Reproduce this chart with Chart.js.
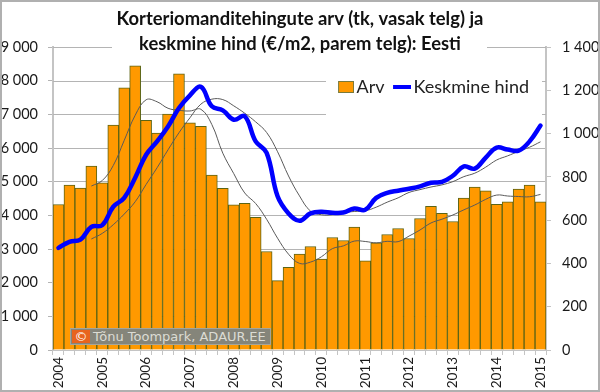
<!DOCTYPE html>
<html>
<head>
<meta charset="utf-8">
<script src="https://cdn.jsdelivr.net/npm/chart.js@4"></script>
<style>
  html, body { margin: 0; padding: 0; background: #fff; }
  #wrap { position: relative; width: 600px; height: 392px; }
  #stamp {
    position: absolute; left: 70px; top: 328px; width: 201px; height: 17px;
    background: #85857a; border: 1px solid #a5a59a; box-sizing: border-box;
    font: 13px "DejaVu Sans", sans-serif; color: #dcdcd4; line-height: 15px;
    white-space: nowrap; overflow: hidden;
  }
  #stamp b { display: inline-block; width: 18px; height: 13px; margin: 1px 3px 0 1px; background: #e8641e; color: #fff; font-weight: normal; text-align: center; line-height: 13px; vertical-align: top; }
</style>
</head>
<body>
<div id="wrap">
  <canvas id="chart" width="600" height="392"></canvas>
  <div id="stamp"><b>©</b>Tõnu Toompark, ADAUR.EE</div>
</div>
<script>
const categories = ["2004","","","","2005","","","","2006","","","","2007","","","","2008","","","","2009","","","","2010","","","","2011","","","","2012","","","","2013","","","","2014","","","","2015"];

const arv = [4323,4899,4810,5464,4968,6684,7785,8439,6823,6446,7011,8201,6744,6644,5196,4800,4314,4354,3937,2925,2063,2459,2846,3074,2697,3342,3253,3649,2648,3183,3431,3610,3312,3907,4264,4056,3818,4512,4840,4730,4324,4403,4780,4899,4403];

const hind = [472,500,510,569,577,662,703,796,902,964,1033,1118,1177,1216,1126,1107,1064,1080,964,911,710,631,597,631,639,634,635,654,648,703,726,736,745,756,773,777,805,848,838,889,935,926,921,964,1037];

const arvAvg = [null,null,null,4870,5035,5480,6225,6970,7433,7373,7180,7120,7100,7150,6696,5846,5238,4664,4351,3882,3320,2846,2573,2611,2769,3011,3092,3235,3223,3183,3228,3218,3384,3565,3773,3885,4011,4163,4307,4475,4602,4574,4559,4552,4621];

const hindAvg = [null,null,null,513,539,579,628,685,765,842,925,1004,1073,1136,1159,1157,1128,1094,1054,1005,916,804,712,642,625,625,635,640,643,660,683,703,728,741,753,763,778,801,817,845,878,897,918,937,962];

const titleLines = ["Korteriomanditehingute arv (tk, vasak telg) ja", "keskmine hind (€/m2, parem telg): Eesti"];
const gridColor = "#b4b4b4";
const axisColor = "#c4c4c4";
const textColor = "#1a1a1a";

function spaced(v) {
  return String(v).replace(/\B(?=(\d{3})+$)/g, " ");
}

// legend symbol, kept in the right half of its canvas so it sits close to the text
function swatch(w, h, fill, stroke) {
  const cv = document.createElement("canvas");
  cv.width = 30;
  cv.height = h;
  const c = cv.getContext("2d");
  c.fillStyle = fill;
  c.fillRect(30 - w, 0, w, h);
  if (stroke) {
    c.strokeStyle = stroke;
    c.strokeRect(30 - w + 0.5, 0.5, w - 1, h - 1);
  }
  return cv;
}

// the top gridlines are broken by the title and legend boxes, so they are drawn in pieces
const brokenGrid = {
  id: "brokenGrid",
  beforeLayout(chart) {
    // chartArea legend stacks in a column by default, we want one row
    chart.legend.isHorizontal = () => true;
  },
  afterLayout(chart) {
    chart.legend.top = 75;
    chart.legend.right = 532;
  },
  beforeDatasetsDraw(chart) {
    const c = chart.ctx;
    const y = chart.scales.y;
    const a = chart.chartArea;
    c.save();
    c.strokeStyle = gridColor;
    c.lineWidth = 1;
    const pieces = [[9000, a.left, 112], [9000, 487, a.right], [8000, a.left, 326], [8000, 542, a.right], [7000, a.left, 326], [7000, 542, a.right]];
    pieces.forEach(p => {
      const py = Math.round(y.getPixelForValue(p[0])) + 0.5;
      c.beginPath();
      c.moveTo(p[1], py);
      c.lineTo(p[2], py);
      c.stroke();
    });
    c.restore();
  },
  afterDraw(chart) {
    const c = chart.ctx;
    c.save();
    c.strokeStyle = "#b0b0b0";
    c.lineWidth = 2;
    c.strokeRect(1, 1, 598, 390);
    c.restore();
  }
};

new Chart(document.getElementById("chart"), {
  type: "bar",
  plugins: [brokenGrid],
  data: {
    labels: categories,
    datasets: [
      {
        label: "Arv",
        data: arv,
        yAxisID: "y",
        order: 3,
        backgroundColor: "#ff9900",
        borderColor: "#5c6414",
        borderWidth: 1,
        barPercentage: 1,
        categoryPercentage: 1,
        pointStyle: swatch(16, 12, "#ff9900", "#7a7a3a")
      },
      {
        type: "line",
        label: "Keskmine hind",
        data: hind,
        yAxisID: "y1",
        order: 0,
        borderColor: "#0000ff",
        backgroundColor: "#0000ff",
        borderWidth: 4.5,
        tension: 0.4,
        pointRadius: 0,
        pointStyle: swatch(18, 4, "#0000ff"),
        borderCapStyle: "round"
      },
      {
        type: "line",
        label: "arvAvg",
        data: arvAvg,
        yAxisID: "y",
        order: 1,
        borderColor: "#5a5a5a",
        borderWidth: 1,
        tension: 0.4,
        pointRadius: 0
      },
      {
        type: "line",
        label: "hindAvg",
        data: hindAvg,
        yAxisID: "y1",
        order: 2,
        borderColor: "#5a5a5a",
        borderWidth: 1,
        tension: 0.4,
        pointRadius: 0
      }
    ]
  },
  options: {
    responsive: false,
    animation: false,
    layout: { padding: 0 },
    plugins: {
      title: {
        display: true,
        text: titleLines,
        color: "#111",
        font: { family: "Lato", size: 18.4, weight: "bold", lineHeight: 24.5 / 18.4 },
        padding: { top: 7, bottom: -9 }
      },
      legend: {
        position: "chartArea",
        align: "end",
        labels: {
          usePointStyle: true,
          pointStyleWidth: 17,
          boxHeight: 11,
          padding: 3,
          color: "#222",
          font: { family: "Lato", size: 18 },
          filter: item => item.text === "Arv" || item.text === "Keskmine hind",
          sort: (a, b) => a.datasetIndex - b.datasetIndex
        }
      },
      tooltip: { enabled: false }
    },
    scales: {
      x: {
        offset: true,
        afterFit(scale) { scale.height = 42; },
        grid: { offset: true, drawOnChartArea: false, color: axisColor, tickLength: 5 },
        border: { color: axisColor, width: 1 },
        ticks: {
          autoSkip: false,
          maxRotation: 90,
          minRotation: 90,
          padding: 2,
          color: textColor,
          font: { family: "Lato", size: 13.5 }
        }
      },
      y: {
        position: "left",
        min: 0,
        max: 9000,
        afterFit(scale) { scale.width = 53; },
        grid: {
          color: ctx => (ctx.tick && ctx.tick.value >= 7000 ? "rgba(0,0,0,0)" : gridColor),
          tickColor: gridColor,
          tickLength: 5
        },
        border: { color: axisColor, width: 2 },
        ticks: {
          stepSize: 1000,
          padding: 10,
          color: textColor,
          font: { family: "Lato", size: 14.5 },
          callback: spaced
        }
      },
      y1: {
        position: "right",
        min: 0,
        max: 1400,
        afterFit(scale) { scale.width = 54; },
        grid: { drawOnChartArea: false, color: axisColor, tickLength: 5 },
        border: { color: axisColor, width: 2 },
        ticks: {
          stepSize: 200,
          padding: 11,
          color: textColor,
          font: { family: "Lato", size: 14.5 },
          callback: spaced
        }
      }
    }
  }
});
</script>
</body>
</html>
